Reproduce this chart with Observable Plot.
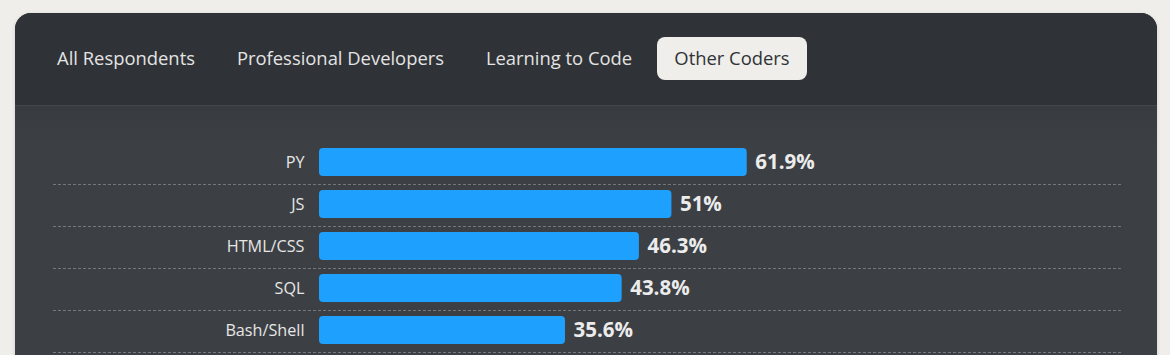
<!DOCTYPE html>
<html>
<head>
<meta charset="utf-8">
<script src="https://cdn.jsdelivr.net/npm/d3@7"></script>
<script src="https://cdn.jsdelivr.net/npm/@observablehq/plot@0.6"></script>
<style>
  html, body { margin: 0; padding: 0; }
  body { width: 1170px; height: 355px; background: #efeeea; overflow: hidden; position: relative; font-family: "Open Sans", "Noto Sans", sans-serif; }
  .card { position: absolute; left: 15px; top: 13px; width: 1142px; height: 420px; border-radius: 16px; overflow: hidden; background: #3c4044; box-shadow: 0 1px 4px rgba(0,0,0,0.12); }
  .header { position: absolute; left: 0; top: 0; width: 100%; height: 92px; background: #2f3236; border-bottom: 1px solid #43474b; }
  .body-shade { position: absolute; left: 0; top: 93px; width: 100%; height: 40px; background: linear-gradient(#383c40, #3c4044); }
  .tab { position: absolute; top: 24px; height: 43px; line-height: 42px; text-align: center; font-size: 18.4px; color: #e4e4e4; border-radius: 8px; white-space: nowrap; }
  .tab.active { background: #efeeea; color: #2f3236; }
  #chart { position: absolute; left: 0; top: 105px; }
</style>
</head>
<body>
<div class="card">
  <div class="header" id="tabs"></div>
  <div class="body-shade"></div>
</div>
<div id="chart"></div>
<script>
const tabs = ["All Respondents", "Professional Developers", "Learning to Code", "Other Coders"];
const activeTab = "Other Coders";
const languages = ["PY", "JS", "HTML/CSS", "SQL", "Bash/Shell"];
const shares = [61.9, 51, 46.3, 43.8, 35.6];
const valueLabels = ["61.9%", "51%", "46.3%", "43.8%", "35.6%"];

// tab boxes (layout, relative to card)
const tabBoxes = [[23, 176], [204, 243], [451, 186], [642, 150]];
const tabsEl = document.getElementById("tabs");
tabs.forEach((t, i) => {
  const d = document.createElement("div");
  d.className = "tab" + (t === activeTab ? " active" : "");
  d.style.left = tabBoxes[i][0] + "px";
  d.style.width = tabBoxes[i][1] + "px";
  d.textContent = t;
  tabsEl.appendChild(d);
});

const data = languages.map((l, i) => ({lang: l, value: shares[i], label: valueLabels[i]}));

const chart = Plot.plot({
  width: 1170,
  height: 250,
  marginLeft: 53,
  marginRight: 49,
  marginTop: 0,
  marginBottom: 0,
  style: {background: "transparent", fontFamily: "'Open Sans', 'Noto Sans', sans-serif", overflow: "visible"},
  x: {domain: [0, 100], range: [319, 1010], axis: null},
  y: {type: "band", domain: languages, range: [35.4, 245.9], paddingInner: 0.34, paddingOuter: 0.17, axis: null},
  marks: [
    Plot.ruleY(data, {y: "lang", dy: 22, stroke: "#74787c", strokeWidth: 1, strokeDasharray: "3,2"}),
    Plot.barX(data, {x: "value", y: "lang", fill: "#1ea0ff", rx: 4}),
    Plot.text(data, {x: 0, y: "lang", text: "lang", textAnchor: "end", dx: -15, fill: "#e6e6e6", fontSize: 16.2}),
    Plot.text(data, {x: "value", y: "lang", text: "label", textAnchor: "start", dx: 8, fill: "#ececec", fontSize: 20.5, fontWeight: "bold"})
  ]
});
document.getElementById("chart").appendChild(chart);
</script>
</body>
</html>
